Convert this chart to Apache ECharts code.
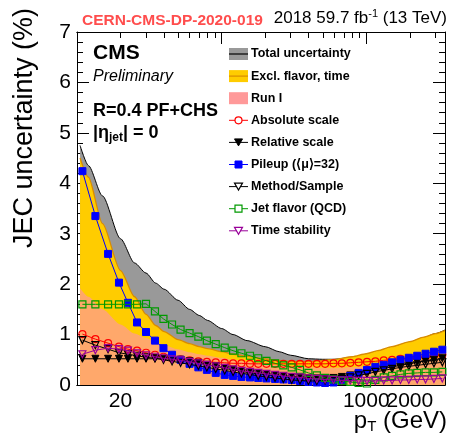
<!DOCTYPE html>
<html><head><meta charset="utf-8">
<script src="https://cdn.jsdelivr.net/npm/echarts@6/dist/echarts.min.js"></script>
<style>html,body{margin:0;padding:0;background:#fff}#c{width:449px;height:440px}</style>
</head><body><div id="c"></div>
<script>
// ---- data ----
const ptPoints = [10.9, 13.4, 16.4, 19.5, 22.5, 26, 30, 34.6, 39.6, 45.4, 52, 60, 69, 79, 91, 105, 120, 137, 157, 179, 204, 234, 267, 305, 348, 398, 455, 519, 593, 678, 775, 885, 1011, 1155, 1320, 1508, 1723, 1968, 2249, 2569, 2935, 3354];
const absoluteScale = [1.01, 0.91, 0.83, 0.76, 0.71, 0.68, 0.64, 0.60, 0.56, 0.53, 0.51, 0.49, 0.47, 0.46, 0.45, 0.44, 0.43, 0.43, 0.42, 0.42, 0.42, 0.42, 0.42, 0.42, 0.42, 0.42, 0.42, 0.42, 0.43, 0.43, 0.44, 0.45, 0.46, 0.47, 0.49, 0.50, 0.52, 0.53, 0.55, 0.56, 0.58, 0.60];
const relativeScale = [0.52, 0.52, 0.52, 0.52, 0.52, 0.52, 0.52, 0.52, 0.52, 0.51, 0.50, 0.47, 0.44, 0.40, 0.37, 0.33, 0.30, 0.27, 0.24, 0.22, 0.20, 0.18, 0.16, 0.15, 0.14, 0.13, 0.13, 0.13, 0.14, 0.16, 0.19, 0.22, 0.26, 0.30, 0.33, 0.36, 0.39, 0.42, 0.45, 0.48, 0.50, 0.53];
const pileup = [4.24, 3.35, 2.60, 2.03, 1.63, 1.24, 1.05, 0.88, 0.73, 0.60, 0.50, 0.42, 0.35, 0.30, 0.24, 0.20, 0.18, 0.16, 0.15, 0.14, 0.13, 0.12, 0.11, 0.10, 0.08, 0.06, 0.05, 0.04, 0.05, 0.10, 0.18, 0.24, 0.30, 0.36, 0.40, 0.45, 0.50, 0.54, 0.58, 0.62, 0.66, 0.70];
const methodSample = [0.89, 0.79, 0.71, 0.64, 0.61, 0.58, 0.55, 0.53, 0.50, 0.47, 0.44, 0.41, 0.38, 0.35, 0.32, 0.29, 0.26, 0.23, 0.21, 0.18, 0.16, 0.14, 0.12, 0.10, 0.09, 0.08, 0.08, 0.09, 0.10, 0.12, 0.15, 0.19, 0.22, 0.26, 0.29, 0.32, 0.35, 0.37, 0.39, 0.41, 0.43, 0.45];
const jetFlavor = [1.60, 1.60, 1.60, 1.60, 1.60, 1.60, 1.61, 1.46, 1.31, 1.20, 1.10, 1.03, 0.96, 0.88, 0.81, 0.74, 0.68, 0.63, 0.58, 0.53, 0.48, 0.43, 0.39, 0.35, 0.30, 0.24, 0.19, 0.14, 0.11, 0.08, 0.06, 0.04, 0.03, 0.10, 0.15, 0.18, 0.21, 0.23, 0.24, 0.25, 0.25, 0.26];
const timeStability = [0.61, 0.69, 0.73, 0.71, 0.68, 0.63, 0.59, 0.56, 0.53, 0.51, 0.49, 0.46, 0.43, 0.40, 0.37, 0.34, 0.31, 0.28, 0.26, 0.24, 0.22, 0.20, 0.18, 0.16, 0.15, 0.13, 0.12, 0.11, 0.10, 0.09, 0.09, 0.08, 0.08, 0.08, 0.09, 0.09, 0.10, 0.10, 0.11, 0.11, 0.12, 0.13];

const bandPt = [10.5, 12, 15, 20, 25, 30, 35, 40, 50, 60, 70, 80, 100, 120, 150, 200, 250, 300, 400, 500, 600, 800, 1000, 1200, 1500, 2000, 2500, 3000, 3500];
const totalUnc = [4.75, 4.35, 3.75, 2.90, 2.42, 2.22, 2.02, 1.90, 1.68, 1.50, 1.38, 1.28, 1.12, 1.00, 0.88, 0.76, 0.66, 0.59, 0.52, 0.51, 0.51, 0.55, 0.61, 0.67, 0.75, 0.85, 0.94, 1.02, 1.09];
const exclFlavorTime = [4.50, 4.12, 3.20, 2.27, 1.75, 1.40, 1.18, 1.06, 0.90, 0.82, 0.76, 0.72, 0.66, 0.61, 0.57, 0.52, 0.49, 0.47, 0.47, 0.49, 0.51, 0.56, 0.62, 0.68, 0.76, 0.86, 0.95, 1.02, 1.08];
const runI = [1.92, 1.75, 1.50, 1.20, 1.02, 0.93, 0.85, 0.79, 0.71, 0.65, 0.61, 0.58, 0.54, 0.50, 0.46, 0.42, 0.39, 0.37, 0.35, 0.34, 0.34, 0.35, 0.37, 0.39, 0.42, 0.46, 0.50, 0.53, 0.56];

const xLabelValuesA = [20, 100, 200, 1000];
const xLabelValuesB = [2000];
const xMinorTicks = [20, 30, 40, 50, 60, 70, 80, 90, 200, 300, 400, 500, 600, 700, 800, 900, 2000, 3000];
const xMajorTicks = [100, 1000];
const yMin = 0, yMax = 7, yStep = 1;
const xMin = 10, xMax = 3500;

const legendLabels = ['Total uncertainty', 'Excl. flavor, time', 'Run I', 'Absolute scale', 'Relative scale', 'Pileup (\u27e8\u03bc\u27e9=32)', 'Method/Sample', 'Jet flavor (QCD)', 'Time stability'];

// ---- chart ----
const FONT = '"Liberation Sans", Arial, Helvetica, sans-serif';
const zip = (xs, ys) => xs.map((x, i) => [x, ys[i]]);
const chart = echarts.init(document.getElementById('c'), null, {renderer: 'canvas'});

function xAxisDef(pos, ticks, len, labels) {
  return {
    type: 'log', logBase: 10, min: xMin, max: xMax, position: pos,
    axisLine: {show: true, onZero: false, lineStyle: {color: '#000', width: 1}},
    axisTick: {show: true, inside: true, length: len, customValues: ticks, lineStyle: {color: '#000', width: 1}},
    axisLabel: labels ? {show: true, customValues: labels, hideOverlap: false, formatter: v => String(Math.round(v)),
      fontSize: 21, fontFamily: FONT, color: '#000', margin: 6} : {show: false},
    splitLine: {show: false}, minorTick: {show: false}, minorSplitLine: {show: false}
  };
}
function yAxisDef(pos, labels) {
  return {
    type: 'value', min: yMin, max: yMax, interval: yStep, position: pos,
    axisLine: {show: true, onZero: false, lineStyle: {color: '#000', width: 1}},
    axisTick: {show: true, inside: true, length: 12, lineStyle: {color: '#000', width: 1}},
    minorTick: {show: true, splitNumber: 5, length: 6, lineStyle: {color: '#000', width: 1}},
    axisLabel: labels ? {show: true, fontSize: 21, fontFamily: FONT, color: '#000', margin: 6} : {show: false},
    splitLine: {show: false}
  };
}

function band(name, ys, fill, lineColor, lineW, z, opacity) {
  return {
    name, type: 'line', data: zip(bandPt, ys), xAxisIndex: 0, yAxisIndex: 0,
    showSymbol: false, symbol: 'none', smooth: 0.25, smoothMonotone: 'x', z,
    lineStyle: lineColor ? {color: lineColor, width: lineW} : {width: 0, opacity: 0},
    areaStyle: {color: fill, opacity: opacity}, silent: true
  };
}
function markerSeries(name, ys, color, symbol, filled, z, rotate, size) {
  return {
    name, type: 'line', data: zip(ptPoints, ys), xAxisIndex: 0, yAxisIndex: 0,
    symbol, symbolSize: size || 7, symbolRotate: rotate || 0, showSymbol: true, z,
    lineStyle: {color, width: 1},
    itemStyle: filled ? {color, borderColor: color, borderWidth: 1} : {color: 'rgba(255,255,255,0)', borderColor: color, borderWidth: 1.2},
    silent: true
  };
}

// legend as graphics
const legendColors = {
  bands: [['#999999', '#000000'], ['#ffcc00', '#d98c00'], ['#ff9999', null]],
};
const lineEntries = [
  {color: '#ff0000', shape: 'circle', filled: false},
  {color: '#000000', shape: 'down', filled: true},
  {color: '#0000ff', shape: 'square', filled: true},
  {color: '#000000', shape: 'down', filled: false},
  {color: '#009900', shape: 'square', filled: false},
  {color: '#990099', shape: 'down', filled: false}
];
const graphics = [];
const LX = 229, LW = 19, LY0 = 54, LDY = 22.1;
legendLabels.forEach((lab, i) => {
  const y = LY0 + i * LDY;
  if (i < 3) {
    const [fill, stroke] = legendColors.bands[i];
    graphics.push({type: 'rect', shape: {x: LX, y: y - 6, width: LW, height: 12}, style: {fill}});
    if (stroke) graphics.push({type: 'line', shape: {x1: LX, y1: y, x2: LX + LW, y2: y}, style: {stroke, lineWidth: 1.2}});
  } else {
    const e = lineEntries[i - 3];
    const cx = LX + LW / 2;
    graphics.push({type: 'line', shape: {x1: LX, y1: y, x2: LX + LW, y2: y}, style: {stroke: e.color, lineWidth: 1}});
    const st = e.filled ? {fill: e.color, stroke: e.color, lineWidth: 1} : {fill: '#fff', stroke: e.color, lineWidth: 1.2};
    if (e.shape === 'circle') graphics.push({type: 'circle', shape: {cx, cy: y, r: 3.5}, style: st});
    else if (e.shape === 'square') graphics.push({type: 'rect', shape: {x: cx - 3.5, y: y - 3.5, width: 7, height: 7}, style: st});
    else graphics.push({type: 'polygon', shape: {points: [[cx - 4, y - 3.5], [cx + 4, y - 3.5], [cx, y + 3.5]]}, style: st});
  }
  graphics.push({type: 'text', x: 251, y: y, style: {text: lab, fill: '#000', font: 'bold 12.5px ' + FONT, verticalAlign: 'middle', textAlign: 'left'}});
});

// other texts
graphics.push({type: 'text', x: 82, y: 21, style: {text: 'CERN-CMS-DP-2020-019', fill: '#ff4d4d', font: 'bold 15.5px ' + FONT, verticalAlign: 'middle'}});
graphics.push({type: 'text', x: 447, y: 18, style: {
  text: '2018 59.7 fb{sup|-1} (13 TeV)', textAlign: 'right', verticalAlign: 'middle',
  fill: '#000', font: '17px ' + FONT,
  rich: {sup: {fontSize: 11, fontFamily: FONT, fill: '#000', verticalAlign: 'top', padding: [0, 0, 8, 0]}}
}});
graphics.push({type: 'text', x: 93, y: 53, style: {text: 'CMS', fill: '#000', font: 'bold 21px ' + FONT, verticalAlign: 'middle'}});
graphics.push({type: 'text', x: 93, y: 77, style: {text: 'Preliminary', fill: '#000', font: 'italic 16px ' + FONT, verticalAlign: 'middle'}});
graphics.push({type: 'text', x: 93, y: 111, style: {text: 'R=0.4 PF+CHS', fill: '#000', font: 'bold 18px ' + FONT, verticalAlign: 'middle'}});
graphics.push({type: 'text', x: 93, y: 133, style: {
  text: '|\u03b7{sub|jet}| = 0', fill: '#000', font: 'bold 18px ' + FONT, verticalAlign: 'middle',
  rich: {sub: {fontSize: 12, fontWeight: 'bold', fontFamily: FONT, fill: '#000', padding: [10, 0, 0, 0]}}
}});
graphics.push({type: 'text', x: 25, y: 128, rotation: Math.PI / 2, style: {text: 'JEC uncertainty (%)', fill: '#000', font: '27px ' + FONT, textAlign: 'center', verticalAlign: 'middle'}});
graphics.push({type: 'text', x: 447, y: 421, style: {
  text: 'p{sub|T} (GeV)', fill: '#000', font: '24px ' + FONT, textAlign: 'right', verticalAlign: 'middle',
  rich: {sub: {fontSize: 15, fontFamily: FONT, fill: '#000', padding: [12, 0, 0, 0]}}
}});

const option = {
  animation: false,
  backgroundColor: '#fff',
  grid: {left: 77, right: 4, top: 32, bottom: 55, containLabel: false},
  xAxis: [
    xAxisDef('bottom', xMinorTicks, 6, xLabelValuesA),
    xAxisDef('bottom', xMajorTicks, 12, xLabelValuesB),
    xAxisDef('top', xMinorTicks, 6, null),
    xAxisDef('top', xMajorTicks, 12, null)
  ],
  yAxis: [yAxisDef('left', true), yAxisDef('right', false)],
  series: [
    band('Total uncertainty', totalUnc, '#999999', '#000000', 1, 1, 1),
    band('Excl. flavor, time', exclFlavorTime, '#ffcc00', '#d98c00', 1.3, 2, 1),
    band('Run I', runI, '#ff9999', null, 0, 3, 0.7),
    markerSeries('Absolute scale', absoluteScale, '#ff0000', 'circle', false, 4),
    markerSeries('Relative scale', relativeScale, '#000000', 'triangle', true, 5, 180),
    markerSeries('Pileup', pileup, '#0000ff', 'rect', true, 6),
    markerSeries('Method/Sample', methodSample, '#000000', 'triangle', false, 7, 180),
    markerSeries('Jet flavor (QCD)', jetFlavor, '#009900', 'rect', false, 8),
    markerSeries('Time stability', timeStability, '#990099', 'triangle', false, 9, 180)
  ],
  graphic: graphics
};
chart.setOption(option);
</script>
</body></html>
